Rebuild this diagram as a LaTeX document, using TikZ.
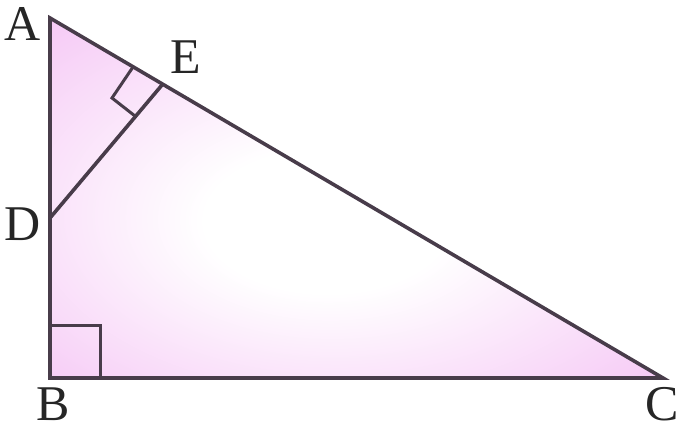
\documentclass[tikz,border=0pt]{standalone}
\usepackage{fontspec}
\setmainfont{Liberation Serif}
\definecolor{pinkc}{RGB}{244,192,244}
\definecolor{linec}{RGB}{72,60,74}
\pgfdeclareradialshading{pinkrad}{\pgfpoint{-3bp}{-4bp}}{color(0bp)=(white); color(10bp)=(white); color(40bp)=(pinkc); color(50bp)=(pinkc)}
\tikzset{
  edge/.style={draw=linec, line width=3.6pt, line cap=round, line join=miter},
  rmark/.style={draw=linec, line width=3pt},
  lbl/.style={font=\fontsize{50}{50}\selectfont, text=black!85, inner sep=0pt}
}
\begin{document}
\begin{tikzpicture}[x=1pt,y=-1pt]
\useasboundingbox (0,0) rectangle (680,433);
\coordinate (A) at (50,18);
\coordinate (B) at (50,378);
\coordinate (C) at (663,378);
\coordinate (D) at (50,218);
\coordinate (E) at (162,85);
\coordinate (P) at (133,67);
\coordinate (Q) at (112,98);
\coordinate (R) at (135,116);
\coordinate (S) at (50,325);
\coordinate (T) at (100,325);
\coordinate (U) at (100,378);
\shade[shading=pinkrad] (A) -- (B) -- (C) -- cycle;
\draw[rmark] (P) -- (Q) -- (R);
\draw[rmark] (S) -- (T) -- (U);
\draw[edge] (D) -- (E);
\draw[edge] (A) -- (B) -- (C) -- cycle;
\node[lbl] (la) at (23,24) {A};
\node[lbl] (le) at (186,57) {E};
\node[lbl] (ld) at (23,224) {D};
\node[lbl] (lb) at (53,404) {B};
\node[lbl] (lc) at (662,404) {C};
\end{tikzpicture}
\end{document}
